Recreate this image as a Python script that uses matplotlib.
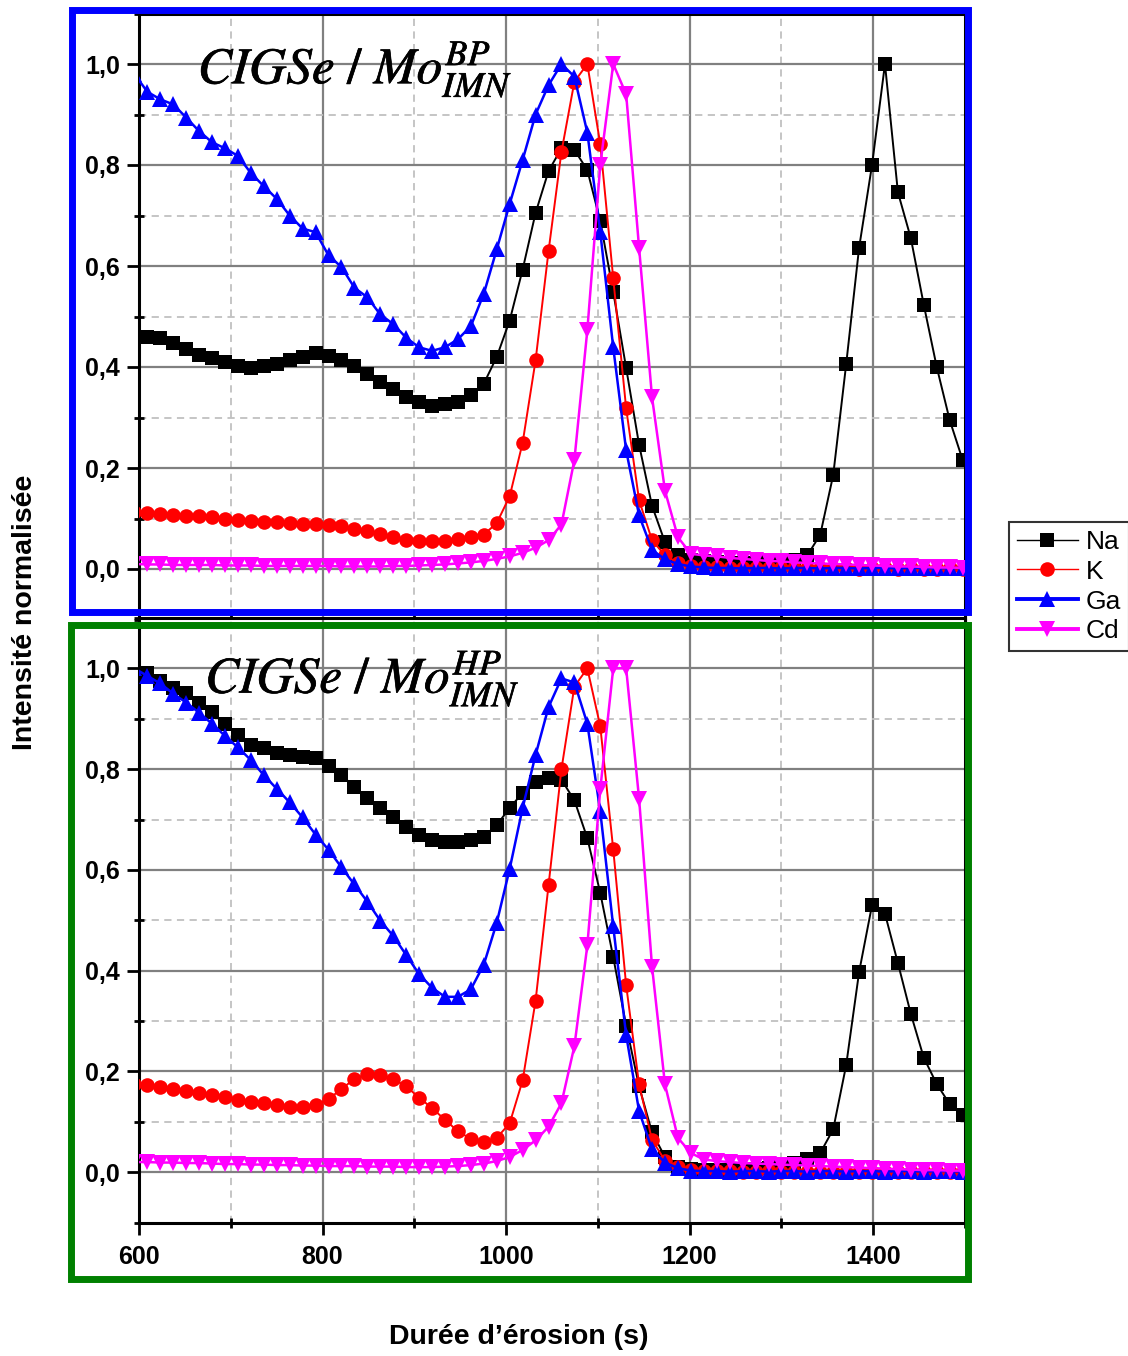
import matplotlib
matplotlib.use("Agg")
import matplotlib.pyplot as plt
import matplotlib.patheffects as pe
from matplotlib.patches import Rectangle
from matplotlib.lines import Line2D
from matplotlib.ticker import MultipleLocator, FuncFormatter

plt.rcParams['mathtext.fontset'] = 'stix'

# ---------------- data ----------------
time_s = [595.0, 609.1, 623.2, 637.3, 651.4, 665.5, 679.6, 693.7, 707.8, 721.9,
          736.0, 750.1, 764.2, 778.3, 792.4, 806.5, 820.6, 834.7, 848.8, 862.9,
          877.0, 891.1, 905.2, 919.3, 933.4, 947.5, 961.6, 975.7, 989.8, 1003.9,
          1018.0, 1032.1, 1046.2, 1060.3, 1074.4, 1088.5, 1102.6, 1116.7, 1130.8, 1144.9,
          1159.0, 1173.1, 1187.2, 1201.3, 1215.4, 1229.5, 1243.6, 1257.7, 1271.8, 1285.9,
          1300.0, 1314.1, 1328.2, 1342.3, 1356.4, 1370.5, 1384.6, 1398.7, 1412.8, 1426.9,
          1441.0, 1455.1, 1469.2, 1483.3, 1497.4]

# Top panel: CIGSe / Mo BP
na_bp = [0.462, 0.46, 0.458, 0.447, 0.436, 0.424, 0.417, 0.409, 0.402, 0.398,
         0.402, 0.405, 0.413, 0.42, 0.428, 0.422, 0.414, 0.402, 0.386, 0.371,
         0.356, 0.341, 0.331, 0.322, 0.326, 0.33, 0.345, 0.367, 0.42, 0.492,
         0.593, 0.705, 0.788, 0.833, 0.83, 0.79, 0.689, 0.549, 0.398, 0.246,
         0.125, 0.053, 0.027, 0.018, 0.015, 0.013, 0.012, 0.012, 0.012, 0.013,
         0.015, 0.018, 0.027, 0.068, 0.186, 0.405, 0.636, 0.80, 1.0, 0.746,
         0.655, 0.523, 0.40, 0.295, 0.216]
k_bp = [0.112, 0.11, 0.108, 0.106, 0.105, 0.104, 0.102, 0.1, 0.098, 0.096,
        0.094, 0.093, 0.092, 0.09, 0.09, 0.088, 0.085, 0.08, 0.075, 0.07,
        0.063, 0.058, 0.055, 0.055, 0.056, 0.06, 0.063, 0.068, 0.091, 0.144,
        0.25, 0.413, 0.629, 0.826, 0.965, 1.0, 0.841, 0.576, 0.318, 0.136,
        0.057, 0.027, 0.012, 0.006, 0.004, 0.003, 0.002, 0.002, 0.001, 0.002,
        0.001, 0.001, 0.002, 0.001, 0.001, 0.001, 0.0, 0.001, 0.001, 0.0,
        0.001, 0.0, 0.0, 0.001, 0.0]
ga_bp = [0.98, 0.945, 0.93, 0.92, 0.894, 0.867, 0.845, 0.833, 0.818, 0.784,
         0.758, 0.733, 0.70, 0.674, 0.667, 0.621, 0.598, 0.557, 0.538, 0.504,
         0.485, 0.458, 0.439, 0.432, 0.439, 0.455, 0.481, 0.545, 0.633, 0.723,
         0.81, 0.90, 0.958, 1.0, 0.975, 0.864, 0.667, 0.439, 0.235, 0.106,
         0.038, 0.019, 0.01, 0.005, 0.003, 0.002, 0.002, 0.001, 0.002, 0.002,
         0.001, 0.002, 0.002, 0.001, 0.002, 0.002, 0.001, 0.002, 0.002, 0.001,
         0.002, 0.002, 0.001, 0.002, 0.002]
cd_bp = [0.01, 0.009, 0.009, 0.008, 0.008, 0.008, 0.008, 0.007, 0.007, 0.007,
         0.006, 0.006, 0.006, 0.006, 0.006, 0.006, 0.005, 0.005, 0.005, 0.005,
         0.006, 0.006, 0.007, 0.008, 0.009, 0.011, 0.013, 0.016, 0.02, 0.025,
         0.032, 0.042, 0.057, 0.088, 0.216, 0.473, 0.80, 1.0, 0.94, 0.636,
         0.34, 0.155, 0.063, 0.03, 0.027, 0.025, 0.022, 0.02, 0.018, 0.016,
         0.015, 0.013, 0.012, 0.011, 0.01, 0.009, 0.008, 0.007, 0.006, 0.005,
         0.005, 0.004, 0.003, 0.003, 0.002]

# Bottom panel: CIGSe / Mo HP
na_hp = [1.0, 0.99, 0.975, 0.962, 0.951, 0.932, 0.913, 0.89, 0.867, 0.848,
         0.841, 0.833, 0.829, 0.825, 0.822, 0.807, 0.788, 0.765, 0.742, 0.723,
         0.704, 0.685, 0.67, 0.659, 0.655, 0.655, 0.659, 0.666, 0.689, 0.723,
         0.753, 0.775, 0.783, 0.779, 0.738, 0.663, 0.554, 0.427, 0.291, 0.17,
         0.079, 0.03, 0.01, 0.006, 0.005, 0.005, 0.005, 0.006, 0.007, 0.009,
         0.012, 0.018, 0.026, 0.038, 0.085, 0.212, 0.397, 0.53, 0.513, 0.415,
         0.314, 0.227, 0.175, 0.135, 0.113]
k_hp = [0.175, 0.172, 0.169, 0.165, 0.162, 0.158, 0.154, 0.15, 0.143, 0.14,
        0.137, 0.133, 0.13, 0.129, 0.133, 0.145, 0.165, 0.185, 0.195, 0.192,
        0.185, 0.17, 0.148, 0.127, 0.104, 0.081, 0.066, 0.06, 0.068, 0.097,
        0.182, 0.34, 0.569, 0.80, 0.964, 1.0, 0.885, 0.641, 0.371, 0.174,
        0.064, 0.023, 0.011, 0.005, 0.003, 0.002, 0.002, 0.001, 0.001, 0.002,
        0.001, 0.001, 0.001, 0.0, 0.001, 0.001, 0.0, 0.001, 0.0, 0.0,
        0.001, 0.0, 0.0, 0.0, 0.0]
ga_hp = [1.0, 0.985, 0.97, 0.95, 0.932, 0.912, 0.89, 0.866, 0.843, 0.818,
         0.788, 0.761, 0.734, 0.704, 0.67, 0.64, 0.605, 0.571, 0.537, 0.499,
         0.469, 0.431, 0.393, 0.366, 0.348, 0.348, 0.363, 0.412, 0.495, 0.602,
         0.723, 0.828, 0.923, 0.98, 0.972, 0.89, 0.716, 0.488, 0.272, 0.121,
         0.045, 0.019, 0.008, 0.003, 0.002, 0.002, 0.001, 0.002, 0.002, 0.001,
         0.002, 0.002, 0.001, 0.002, 0.002, 0.001, 0.002, 0.002, 0.001, 0.002,
         0.002, 0.001, 0.002, 0.002, 0.001]
cd_hp = [0.02, 0.02, 0.019, 0.019, 0.018, 0.018, 0.017, 0.016, 0.016, 0.015,
         0.015, 0.014, 0.014, 0.013, 0.013, 0.012, 0.012, 0.012, 0.011, 0.011,
         0.011, 0.01, 0.01, 0.01, 0.011, 0.012, 0.014, 0.017, 0.022, 0.03,
         0.044, 0.063, 0.09, 0.137, 0.25, 0.45, 0.76, 1.0, 1.0, 0.741,
         0.408, 0.174, 0.068, 0.038, 0.025, 0.022, 0.02, 0.018, 0.017, 0.016,
         0.015, 0.014, 0.013, 0.012, 0.011, 0.01, 0.009, 0.008, 0.007, 0.006,
         0.005, 0.004, 0.004, 0.003, 0.003]

series_names = ["Na", "K", "Ga", "Cd"]
x_ticks = [600, 800, 1000, 1200, 1400]
y_ticks = [0.0, 0.2, 0.4, 0.6, 0.8, 1.0]
title_bp = r"$CIGSe\ /\ Mo_{IMN}^{BP}$"
title_hp = r"$CIGSe\ /\ Mo_{IMN}^{HP}$"
xlabel = "Durée d\u2019érosion (s)"
ylabel = "Intensité normalisée"

# ---------------- styling ----------------
W, H = 1128, 1356
fig = plt.figure(figsize=(W / 100, H / 100), dpi=100)

styles = {
    "Na": dict(color="black", marker="s", ms=9.5, lw=1.4),
    "K": dict(color="#ff0000", marker="o", ms=10.5, lw=1.4),
    "Ga": dict(color="#0000ff", marker="^", ms=11.5, lw=1.8),
    "Cd": dict(color="#ff00ff", marker="v", ms=11.5, lw=1.8),
}

left = 139 / W
width = (965 - 139) / W
ax_top = fig.add_axes([left, 1 - 619.5 / H, width, 606 / H])
ax_bot = fig.add_axes([left, 1 - 1222.5 / H, width, 604.5 / H])

comma_fmt = FuncFormatter(lambda v, p: f"{v:.1f}".replace(".", ","))


def style_axes(ax, show_xlabels):
    ax.set_xlim(600, 1500)
    ax.set_ylim(-0.1, 1.1)
    ax.set_xticks(x_ticks)
    ax.xaxis.set_minor_locator(MultipleLocator(100))
    ax.set_yticks(y_ticks)
    ax.yaxis.set_minor_locator(MultipleLocator(0.1))
    ax.yaxis.set_major_formatter(comma_fmt)
    ax.grid(which="major", color="#808080", lw=1.6, ls="-", zorder=0)
    ax.grid(which="minor", color="#c0c0c0", lw=1.3, ls=(0, (4, 3)), zorder=0)
    ax.set_axisbelow(True)
    for s in ax.spines.values():
        s.set_linewidth(2.2)
        s.set_color("black")
    ax.tick_params(which="major", direction="out", length=8.5, width=2,
                   pad=5, colors="black")
    ax.tick_params(which="minor", direction="inout", length=7, width=2)
    ax.tick_params(axis="x", which="major", pad=8)
    if not show_xlabels:
        ax.tick_params(axis="x", which="both", labelbottom=False)


def draw(ax, data):
    for name, vals in zip(series_names, data):
        st = styles[name]
        ax.plot(time_s, vals, color=st["color"], marker=st["marker"],
                markersize=st["ms"], lw=st["lw"], markeredgewidth=0,
                zorder=3)


for arr in (na_bp, k_bp, ga_bp, cd_bp, na_hp, k_hp, ga_hp, cd_hp):
    assert len(arr) == len(time_s), len(arr)

draw(ax_top, [na_bp, k_bp, ga_bp, cd_bp])
draw(ax_bot, [na_hp, k_hp, ga_hp, cd_hp])
style_axes(ax_top, False)
style_axes(ax_bot, True)
for lab in ax_bot.get_xticklabels() + ax_bot.get_yticklabels() + ax_top.get_yticklabels():
    lab.set_family("Liberation Sans")
    lab.set_fontweight("bold")
    lab.set_fontsize(18)

bold_fx = [pe.withStroke(linewidth=0.5, foreground="black")]
ax_top.text(664, 0.962, title_bp, fontsize=37, va="baseline", ha="left",
            zorder=5, path_effects=bold_fx)
ax_bot.text(672, 0.952, title_hp, fontsize=37, va="baseline", ha="left",
            zorder=5, path_effects=bold_fx)

# frames
fig.patches.append(Rectangle((71.5 / W, 1 - 612 / H), (968 - 71.5) / W, (612 - 10) / H,
                             transform=fig.transFigure, fill=False,
                             edgecolor="#0000ff", lw=5.0, zorder=10))
fig.patches.append(Rectangle((71.0 / W, 1 - 1278.5 / H), (968 - 71.0) / W, (1278.5 - 624.5) / H,
                             transform=fig.transFigure, fill=False,
                             edgecolor="#008000", lw=5.0, zorder=10))

# axis labels
fig.text(25 / W, 1 - 612 / H, ylabel, rotation=90, ha="center", va="center",
         family="Liberation Sans", fontweight="bold", fontsize=20.5)
fig.text(519 / W, 1 - 1337 / H, xlabel, ha="center", va="center",
         family="Liberation Sans", fontweight="bold", fontsize=20.5)

# legend
handles = [Line2D([], [], color=styles[n]["color"], marker=styles[n]["marker"],
                  markersize=styles[n]["ms"],
                  lw=(1.0 if n in ("Na", "K") else 2.8),
                  markeredgewidth=0) for n in series_names]
leg = fig.legend(handles, series_names, loc="upper left",
                 bbox_to_anchor=(1009 / W, 1 - 522 / H),
                 bbox_transform=fig.transFigure, borderaxespad=0,
                 frameon=True, fancybox=False, handlelength=2.3,
                 handletextpad=0.3, labelspacing=0.22, borderpad=0.3,
                 prop=dict(family="Liberation Sans", size=19))
leg.get_frame().set_edgecolor("black")
leg.get_frame().set_linewidth(1.5)

fig.savefig("out.png", dpi=100)
